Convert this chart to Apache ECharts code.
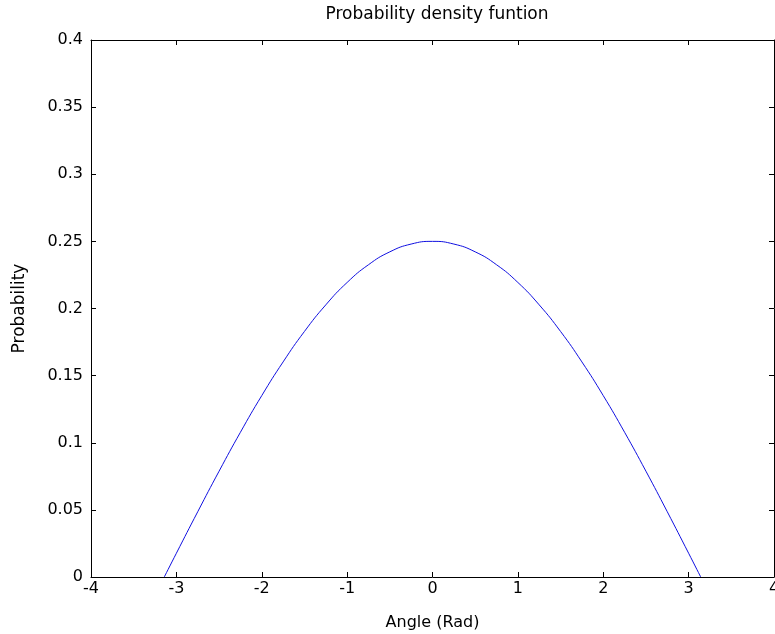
<!DOCTYPE html>
<html><head><meta charset="utf-8">
<script src="https://cdn.jsdelivr.net/npm/echarts@6/dist/echarts.min.js"></script>
<style>html,body{margin:0;padding:0;background:#fff}#c{width:775px;height:634px}</style>
</head><body><div id="c"></div>
<script>
const titleText = 'Probability density funtion';
const xName = 'Angle (Rad)';
const yName = 'Probability';
const angles = [-3.1416,-3,-2.75,-2.5,-2.25,-2,-1.75,-1.5,-1.25,-1,-0.75,-0.5,-0.25,0,0.25,0.5,0.75,1,1.25,1.5,1.75,2,2.25,2.5,2.75,3,3.1416];
const probs = [0,0.0177,0.0486,0.0788,0.1078,0.1351,0.1602,0.1829,0.2027,0.2194,0.2326,0.2422,0.2480,0.25,0.2480,0.2422,0.2326,0.2194,0.2027,0.1829,0.1602,0.1351,0.1078,0.0788,0.0486,0.0177,0];
const xTicks = [-4,4,1];
const yTicks = [0,0.4,0.05];

const font = 'DejaVu Sans, sans-serif';
const axLine = {show:true, onZero:false, lineStyle:{color:'#000', width:1}};
const tick = {inside:true, length:5, lineStyle:{color:'#000'}};
const chart = echarts.init(document.getElementById('c'));
chart.setOption({
  animation:false,
  title:{text:titleText, left:432, top:1, textAlign:'center', textStyle:{fontFamily:font, fontSize:17, fontWeight:'normal', color:'#000'}},
  grid:{left:91, right:1, top:40, bottom:57, outerBoundsMode:'none', containLabel:false},
  xAxis:[
    {type:'value', min:xTicks[0], max:xTicks[1], interval:xTicks[2], position:'bottom',
     name:xName, nameLocation:'middle', nameGap:38, nameTextStyle:{fontFamily:font, fontSize:16, color:'#000'},
     axisLine:axLine, axisTick:tick,
     axisLabel:{fontFamily:font, fontSize:16, color:'#000', margin:4}, splitLine:{show:false}},
    {type:'value', min:xTicks[0], max:xTicks[1], interval:xTicks[2], position:'top',
     axisLine:axLine, axisTick:tick,
     axisLabel:{show:false}, splitLine:{show:false}}
  ],
  yAxis:[
    {type:'value', min:yTicks[0], max:yTicks[1], interval:yTicks[2], position:'left',
     name:yName, nameLocation:'middle', nameGap:63, nameTextStyle:{fontFamily:font, fontSize:17, color:'#000'},
     axisLine:axLine, axisTick:tick,
     axisLabel:{fontFamily:font, fontSize:16, color:'#000', margin:8}, splitLine:{show:false}},
    {type:'value', min:yTicks[0], max:yTicks[1], interval:yTicks[2], position:'right',
     axisLine:axLine, axisTick:tick,
     axisLabel:{show:false}, splitLine:{show:false}}
  ],
  series:[{type:'line', data:angles.map((a,i)=>[a,probs[i]]), smooth:true, showSymbol:false,
    lineStyle:{color:'#1010e0', width:1}}]
});
</script></body></html>
